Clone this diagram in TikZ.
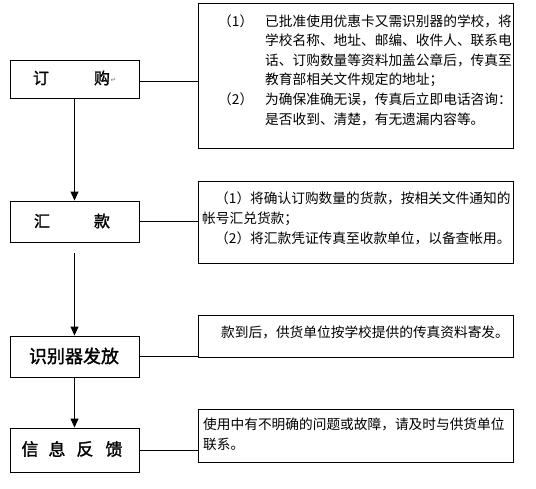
\documentclass[tikz,border=0pt]{standalone}
\usepackage{fontspec}
\setmainfont{Noto Sans CJK SC}
\newfontfamily\lfont{Noto Sans CJK SC}[FakeBold=1.6]
\newfontfamily\symfont{DejaVu Sans}
\usetikzlibrary{arrows.meta}
\begin{document}
\begin{tikzpicture}[x=1pt,y=-1pt,
  lbox/.style={draw,line width=0.9pt,minimum width=129pt,inner sep=0pt},
  rbox/.style={draw,line width=0.9pt,minimum width=315pt,inner sep=0pt},
  ltxt/.style={inner sep=0pt,font=\lfont\fontsize{16}{16}\selectfont},
  ltxtb/.style={inner sep=0pt,font=\lfont\fontsize{18}{18}\selectfont},
  ltxtc/.style={inner sep=0pt,font=\lfont\fontsize{17}{17}\selectfont},
  rtxt/.style={anchor=base west,inner sep=0pt,font=\fontsize{13.7}{13.7}\selectfont},
  link/.style={line width=0.9pt},
  flow/.style={line width=0.9pt,-{Triangle[width=8pt,length=9pt]}}]
\useasboundingbox (0,0) rectangle (536,488);
% left boxes
\node[lbox,minimum height=38pt] (b1) at (74.5,79) {};
\node[lbox,minimum height=41pt] (b2) at (74.5,221.5) {};
\node[lbox,minimum height=41pt] (b3) at (74.5,356.5) {};
\node[lbox,minimum height=44pt] (b4) at (74.5,450) {};
% right boxes
\node[rbox,minimum height=145pt] (r1) at (355.5,75.5) {};
\node[rbox,minimum height=82pt] (r2) at (355.5,222) {};
\node[rbox,minimum height=42pt] (r3) at (355.5,336) {};
\node[rbox,minimum height=53pt] (r4) at (355.5,435.5) {};
% left texts
\node[ltxt] (t1a) at (41,78) {订};
\node[ltxt] (t1b) at (102,78) {购};
\node[inner sep=0pt,text=gray,font=\symfont\fontsize{7}{7}\selectfont] (t1c) at (113.5,80) {↵};
\node[ltxt] (t2a) at (42,221) {汇};
\node[ltxt] (t2b) at (102,221) {款};
\node[ltxtb] (t3) at (74,356) {识别器发放};
\node[ltxtc] (t4a) at (30,449) {信};
\node[ltxtc] (t4b) at (57,449) {息};
\node[ltxtc] (t4c) at (85,449) {反};
\node[ltxtc] (t4d) at (114,449) {馈};
% right texts box 1
\node[rtxt] (p1) at (218,26) {（1）};
\node[rtxt] (s1) at (265,26) {已批准使用优惠卡又需识别器的学校，将};
\node[rtxt] (s2) at (265,45.6) {学校名称、地址、邮编、收件人、联系电};
\node[rtxt] (s3) at (265,65.2) {话、订购数量等资料加盖公章后，传真至};
\node[rtxt] (s4) at (265,84.8) {教育部相关文件规定的地址；};
\node[rtxt] (p2) at (218,104.4) {（2）};
\node[rtxt] (s5) at (265,104.4) {为确保准确无误，传真后立即电话咨询：};
\node[rtxt] (s6) at (265,124) {是否收到、清楚，有无遗漏内容等。};
% right texts box 2
\node[rtxt] (u1) at (215,203) {（1）将确认订购数量的货款，按相关文件通知的};
\node[rtxt] (u2) at (202,223) {帐号汇兑货款；};
\node[rtxt] (u3) at (215,243) {（2）将汇款凭证传真至收款单位，以备查帐用。};
% right texts box 3
\node[rtxt] (v1) at (221,337) {款到后，供货单位按学校提供的传真资料寄发。};
% right texts box 4
\node[rtxt] (w1) at (203,429) {使用中有不明确的问题或故障，请及时与供货单位};
\node[rtxt] (w2) at (203,449) {联系。};
% vertical flow
\draw[flow] (b1.south) -- (b2.north);
\draw[flow] ([yshift=-11pt]b2.south) -- (b3.north);
\draw[flow] (b3.south) -- (b4.north);
% horizontal links
\draw[link] ([yshift=-2pt]b1.east) -- ([yshift=-2pt]b1.east -| r1.west);
\draw[link] (b2.east) -- (b2.east -| r2.west);
\draw[link] (b3.east) -- (b3.east -| r3.west);
\draw[link] (b4.east) -- (b4.east -| r4.west);
\end{tikzpicture}
\end{document}
